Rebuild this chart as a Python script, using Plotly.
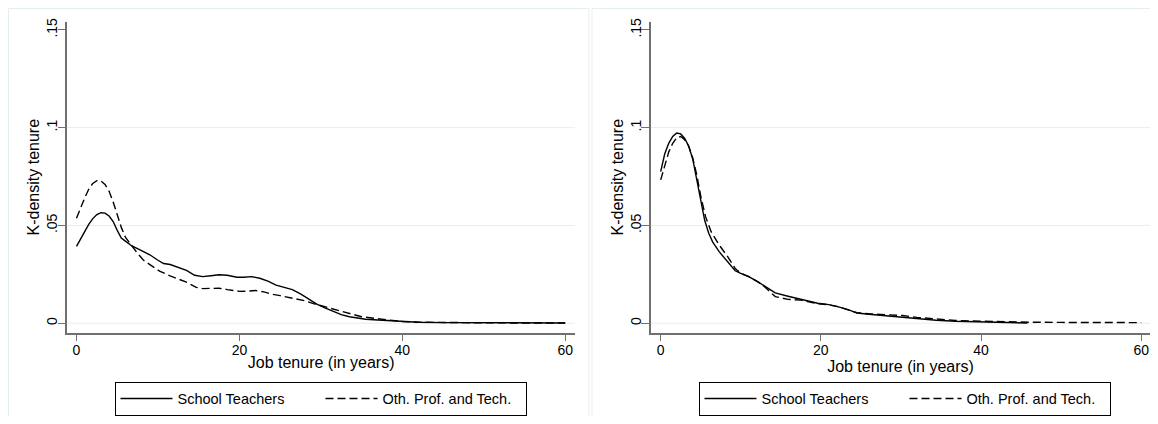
import plotly.graph_objects as go

# Densidade de tempo no emprego - painel esquerdo
left_teach_x = [0, 0.5, 1, 1.5, 2, 2.5, 3, 3.5, 4, 4.5, 5, 5.5, 6, 6.8, 7.8, 9, 10, 10.7, 11.5,
                12.7, 13.5, 14.5, 15.5, 16.5, 17.5, 18.5, 19.7, 20.5, 21.5, 22.5, 23.5, 24.5,
                25.5, 26.5, 27.5, 28.5, 29.5, 30.5, 31.5, 32.5, 33.5, 34.5, 35.5, 37, 38.5,
                40, 42, 45, 50, 55, 60]
left_teach_y = [0.0393, 0.0430, 0.0470, 0.0505, 0.0535, 0.0556, 0.0565, 0.0563, 0.0548, 0.0520,
                0.0475, 0.0435, 0.0420, 0.0395, 0.0375, 0.0350, 0.0322, 0.0305, 0.0300, 0.0283,
                0.0270, 0.0245, 0.0238, 0.0243, 0.0248, 0.0245, 0.0235, 0.0235, 0.0238, 0.0230,
                0.0215, 0.0195, 0.0185, 0.0172, 0.0150, 0.0125, 0.0098, 0.0078, 0.0060, 0.0044,
                0.0033, 0.0025, 0.0020, 0.0016, 0.0012, 0.0008, 0.0005, 0.0003, 0.0002, 0.0001,
                0.0001]

left_other_x = [0, 0.5, 1, 1.5, 2, 2.5, 3, 3.5, 4, 4.5, 5, 5.5, 6, 6.5, 7.4, 8.2, 9.4, 10.2, 11.5,
                12.5, 13.5, 14.7, 15.5, 16.5, 17.5, 18.5, 20, 21, 22, 23, 24, 25, 26.6, 28,
                29.1, 30.5, 31.5, 32.5, 33.9, 35, 36.5, 38.5, 40, 42, 45, 50, 55, 60]
left_other_y = [0.0537, 0.0590, 0.0640, 0.0685, 0.0715, 0.0729, 0.0727, 0.0710, 0.0675, 0.0620,
                0.0555, 0.0490, 0.0440, 0.0410, 0.0362, 0.0323, 0.0289, 0.0266, 0.0242, 0.0228,
                0.0210, 0.0183, 0.0177, 0.0178, 0.0179, 0.0172, 0.0163, 0.0164, 0.0167, 0.0160,
                0.0148, 0.0141, 0.0128, 0.0115, 0.0100, 0.0085, 0.0073, 0.0060, 0.0046, 0.0033,
                0.0025, 0.0014, 0.0009, 0.0005, 0.0003, 0.0002, 0.0001, 0.0001]

# Painel direito
right_teach_x = [0, 0.5, 1, 1.5, 2, 2.5, 3, 3.5, 4, 4.5, 5, 5.5, 6, 6.5, 7.3, 8.3, 9.3, 10, 11,
                 12.2, 13, 14.3, 15.9, 17.5, 19.6, 21, 22.1, 23.5, 24.5, 26, 28, 30.2, 32, 34.4,
                 36.8, 40, 43, 45.8]
right_teach_y = [0.0775, 0.0865, 0.0920, 0.0955, 0.0973, 0.0968, 0.0945, 0.0905, 0.0840, 0.0740,
                 0.0625, 0.0525, 0.0460, 0.0415, 0.0366, 0.0315, 0.0268, 0.0255, 0.0238, 0.0210,
                 0.0190, 0.0155, 0.0138, 0.0122, 0.0102, 0.0095, 0.0085, 0.0068, 0.0052, 0.0046,
                 0.0038, 0.0030, 0.0022, 0.0015, 0.0010, 0.0006, 0.0003, 0.0001]

right_other_x = [0, 0.5, 1, 1.5, 2, 2.5, 3, 3.5, 4, 4.5, 5, 5.6, 6.3, 7.3, 8.3, 9.3, 10, 11, 12.2,
                 13, 14.3, 15.9, 17.5, 19.6, 21, 22.1, 23.5, 24.5, 26, 28, 30.2, 32, 34.4, 36.8,
                 40, 43, 46, 50, 55, 60]
right_other_y = [0.0733, 0.0810, 0.0875, 0.0920, 0.0948, 0.0955, 0.0938, 0.0905, 0.0845, 0.0760,
                 0.0650, 0.0545, 0.0468, 0.0400, 0.0344, 0.0280, 0.0255, 0.0238, 0.0210, 0.0185,
                 0.0136, 0.0122, 0.0118, 0.0100, 0.0094, 0.0085, 0.0068, 0.0054, 0.0048, 0.0045,
                 0.0039, 0.0030, 0.0023, 0.0014, 0.0010, 0.0007, 0.0005, 0.0004, 0.0003, 0.0003]

series_names = ["School Teachers", "Oth. Prof. and Tech."]
x_ticks = [0, 20, 40, 60]
y_ticks = [0, 0.05, 0.1, 0.15]
y_tick_text = ["0", ".05", ".1", ".15"]
grid_vals = [0, 0.05, 0.1]

# o body da pagina tem margem de 8px: o grafico cabe dentro da janela sem rolagem
OFF = 8
W, H = 1158 - 2 * OFF, 424 - 2 * OFF
FONT = "Liberation Sans, Arial, sans-serif"
AXIS = "#707070"
GRID = "#e4eef0"

def px(xp):
    return (xp - OFF) / W

def py(yp):
    return 1 - (yp - OFF) / H

fig = go.Figure()

# Linhas de densidade
paineis = [
    ("x", "y", "legend", left_teach_x, left_teach_y, left_other_x, left_other_y),
    ("x2", "y2", "legend2", right_teach_x, right_teach_y, right_other_x, right_other_y),
]
for xa, ya, leg, tx, ty, ox, oy in paineis:
    fig.add_trace(go.Scatter(x=tx, y=ty, mode="lines", name=series_names[0],
                             xaxis=xa, yaxis=ya, legend=leg,
                             line=dict(color="black", width=1.4)))
    fig.add_trace(go.Scatter(x=ox, y=oy, mode="lines", name=series_names[1],
                             xaxis=xa, yaxis=ya, legend=leg,
                             line=dict(color="black", width=1.4, dash="8px,4px")))

def eixo_x(domain, rng, anchor):
    return dict(domain=domain, range=rng, anchor=anchor, tickvals=x_ticks,
                automargin=False,
                showgrid=False, zeroline=False, showline=True, linecolor=AXIS,
                linewidth=1.5, ticks="outside", ticklen=7, tickcolor=AXIS,
                tickfont=dict(size=14, color="black"), ticklabelstandoff=-3,
                title=dict(text="Job tenure (in years)", font=dict(size=16, color="black"),
                           standoff=0))

def eixo_y(anchor):
    return dict(domain=[py(332.7), py(21.7)], range=[-0.00486, 0.1542], anchor=anchor,
                automargin=False,
                tickvals=y_ticks, ticktext=y_tick_text, tickangle=-90,
                showgrid=False, zeroline=False, showline=True, linecolor=AXIS,
                linewidth=1.5, ticks="outside", ticklen=8, tickcolor=AXIS,
                tickfont=dict(size=14, color="black"), ticklabelstandoff=-5,
                title=dict(text="K-density tenure", font=dict(size=16, color="black"),
                           standoff=0))

def legenda(xc):
    return dict(orientation="h", x=px(xc), xanchor="center", y=py(381.5), yanchor="top",
                bordercolor="black", borderwidth=1, bgcolor="white",
                font=dict(size=14.5, color="black"), itemwidth=52,
                entrywidth=138, traceorder="normal")

shapes = []
# Linhas de grade
for xr in ["x domain", "x2 domain"]:
    yr = "y" if xr == "x domain" else "y2"
    for g in grid_vals:
        shapes.append(dict(type="line", xref=xr, yref=yr, x0=0, x1=1, y0=g, y1=g,
                           line=dict(color=GRID, width=1), layer="below"))
# Moldura de cada painel
shapes.append(dict(type="rect", xref="paper", yref="paper", x0=0.5 / W, x1=px(589),
                   y0=-0.2, y1=1 - 0.5 / H, line=dict(color=GRID, width=1)))
shapes.append(dict(type="rect", xref="paper", yref="paper", x0=px(592), x1=1.2,
                   y0=-0.2, y1=1 - 0.5 / H, line=dict(color=GRID, width=1)))

fig.update_layout(
    width=W, height=H,
    margin=dict(l=0, r=0, t=0, b=0, autoexpand=False),
    paper_bgcolor="white", plot_bgcolor="white",
    font=dict(family=FONT, color="black"),
    xaxis=eixo_x([px(67.3), px(575)], [-1.13, 61.2], "y"),
    yaxis=eixo_y("x"),
    xaxis2=eixo_x([px(651), 1.0], [-1.21, 61.1], "y2"),
    yaxis2=eixo_y("x2"),
    legend=legenda(320.5),
    legend2=legenda(904.5),
    shapes=shapes,
)

fig.write_html("out.html")
